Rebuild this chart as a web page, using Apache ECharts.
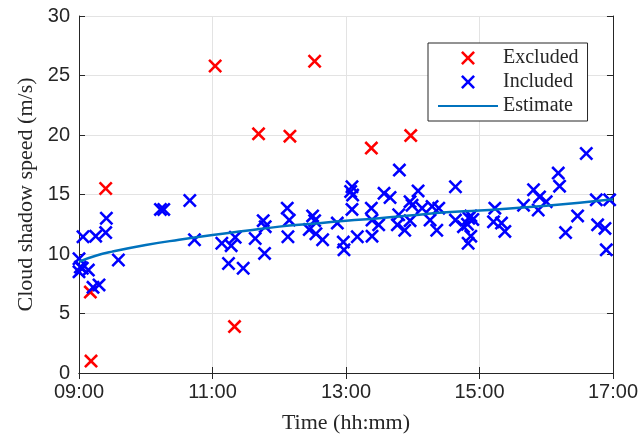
<!DOCTYPE html>
<html>
<head>
<meta charset="utf-8">
<script src="https://cdn.jsdelivr.net/npm/echarts@6/dist/echarts.min.js"></script>
<style>html,body{margin:0;padding:0;background:#fff;}#c{width:641px;height:439px;}</style>
</head>
<body>
<div id="c"></div>
<script>
// Time in decimal hours, speed in m/s
var excludedTime  = [9.18, 9.17, 9.40, 11.04, 11.33, 11.69, 12.16, 12.53, 13.38, 13.97];
var excludedSpeed = [1.0, 6.8, 15.5, 25.8, 3.9, 20.1, 19.9, 26.2, 18.9, 19.95];

var includedTime  = [9.00, 9.02, 9.00, 9.05, 9.14, 9.06, 9.25, 9.40, 9.41, 9.21, 9.30, 9.59,
  10.22, 10.27, 10.66, 10.73, 11.14, 11.28, 11.34, 11.24, 11.46, 11.64, 11.76, 11.79, 11.78,
  12.12, 12.15, 12.13, 12.50, 12.53, 12.45, 12.55, 12.65, 12.87, 12.96, 12.97,
  13.09, 13.07, 13.10, 13.09, 13.17, 13.38, 13.39, 13.39, 13.49, 13.57, 13.66, 13.80, 14.08,
  13.96, 13.99, 13.79, 13.77, 13.88, 13.96, 14.14, 14.29, 14.39, 14.26, 14.36,
  14.64, 14.64, 14.76, 14.84, 14.87, 14.87, 14.83, 14.90, 14.82,
  15.23, 15.21, 15.33, 15.38, 15.66, 15.81, 15.90, 16.00, 15.88, 16.18, 16.20, 16.29, 16.47,
  16.60, 16.75, 16.95, 16.77, 16.88, 16.90];
var includedSpeed = [9.6, 8.9, 8.5, 8.8, 8.65, 11.45, 11.5, 11.8, 13.0, 7.2, 7.4, 9.5,
  13.75, 13.75, 14.5, 11.2, 10.9, 10.7, 11.4, 9.2, 8.8, 11.3, 12.8, 12.3, 10.05,
  13.85, 12.85, 11.45, 13.2, 12.8, 12.05, 11.7, 11.2, 12.6, 11.0, 10.35,
  15.65, 15.25, 14.95, 13.75, 11.45, 13.85, 12.85, 11.5, 12.45, 15.1, 14.75, 17.05, 15.3,
  14.4, 14.1, 13.3, 12.45, 12.0, 12.8, 13.85, 14.0, 13.85, 12.85, 12.0,
  15.65, 12.85, 12.3, 13.0, 13.2, 11.5, 10.9, 12.9, 12.5,
  13.85, 12.7, 12.6, 11.9, 14.1, 15.4, 14.8, 14.4, 13.7, 16.8, 15.7, 11.8, 13.2,
  18.45, 14.55, 14.55, 12.45, 12.15, 10.35];

var estimateTime  = [9.0, 9.25, 9.5, 10.0, 10.5, 11.0, 11.5, 12.0, 12.5, 13.0, 13.5, 14.0, 14.5, 15.0, 15.5, 16.0, 16.5, 17.0];
var estimateSpeed = [9.35, 9.85, 10.2, 10.75, 11.2, 11.6, 11.95, 12.3, 12.55, 12.8, 13.0, 13.25, 13.5, 13.65, 13.85, 14.05, 14.3, 14.6];

var xTicks = ['09:00', '11:00', '13:00', '15:00', '17:00'];

function pairs(a, b) { return a.map(function (v, i) { return [v, b[i]]; }); }

var X = 'path://M0,2.6L2.6,0L10,7.4L17.4,0L20,2.6L12.6,10L20,17.4L17.4,20L10,12.6L2.6,20L0,17.4L7.4,10Z';
var ink = '#262626';
var gridCol = '#e3e3e3';
var sans = 'Liberation Sans';
var serif = 'Liberation Serif';

var chart = echarts.init(document.getElementById('c'), null, {renderer: 'canvas'});
chart.setOption({
  animation: false,
  backgroundColor: '#fff',
  grid: {left: 79, right: 26, top: 16, bottom: 66, containLabel: false},
  legend: {
    orient: 'vertical',
    left: 428, top: 43,
    padding: [5, 9, 5, 9],
    itemWidth: 60, itemHeight: 14, itemGap: 4,
    borderColor: ink, borderWidth: 1, backgroundColor: '#fff',
    textStyle: {fontFamily: serif, fontSize: 20, color: ink},
    data: ['Excluded', 'Included', {name: 'Estimate', itemStyle: {opacity: 0}}]
  },
  xAxis: [{
    type: 'value', min: 9, max: 17, interval: 2,
    name: 'Time (hh:mm)', nameLocation: 'middle', nameGap: 39,
    nameTextStyle: {fontFamily: serif, fontSize: 22, color: ink},
    axisLine: {show: true, lineStyle: {color: ink, width: 1}},
    axisTick: {show: true, inside: true, length: 6, lineStyle: {color: ink}},
    axisLabel: {fontFamily: sans, fontSize: 20, color: ink, margin: 9,
      formatter: function (v) { return xTicks[Math.round((v - 9) / 2)]; }},
    splitLine: {show: true, lineStyle: {color: gridCol, width: 1}}
  }, {
    type: 'value', position: 'top', min: 9, max: 17, interval: 2,
    axisLine: {show: true, lineStyle: {color: ink, width: 1}},
    axisTick: {show: true, inside: true, length: 6, lineStyle: {color: ink}},
    axisLabel: {show: false}, splitLine: {show: false}
  }],
  yAxis: [{
    type: 'value', min: 0, max: 30, interval: 5,
    name: 'Cloud shadow speed (m/s)', nameLocation: 'middle', nameGap: 42, nameRotate: 90,
    nameTextStyle: {fontFamily: serif, fontSize: 22, color: ink},
    axisLine: {show: true, lineStyle: {color: ink, width: 1}},
    axisTick: {show: true, inside: true, length: 6, lineStyle: {color: ink}},
    axisLabel: {fontFamily: sans, fontSize: 20, color: ink, margin: 9},
    splitLine: {show: true, lineStyle: {color: gridCol, width: 1}}
  }, {
    type: 'value', position: 'right', min: 0, max: 30, interval: 5,
    axisLine: {show: true, lineStyle: {color: ink, width: 1}},
    axisTick: {show: true, inside: true, length: 6, lineStyle: {color: ink}},
    axisLabel: {show: false}, splitLine: {show: false}
  }],
  series: [{
    name: 'Excluded', type: 'scatter', data: pairs(excludedTime, excludedSpeed),
    symbol: X, symbolSize: 14, symbolKeepAspect: true,
    itemStyle: {color: '#ff0000', opacity: 1}
  }, {
    name: 'Included', type: 'scatter', data: pairs(includedTime, includedSpeed),
    symbol: X, symbolSize: 14, symbolKeepAspect: true,
    itemStyle: {color: '#0000ff', opacity: 1}
  }, {
    name: 'Estimate', type: 'line', data: pairs(estimateTime, estimateSpeed),
    smooth: true, symbol: 'none', showSymbol: false,
    lineStyle: {color: '#0072BD', width: 2.5},
    itemStyle: {color: '#0072BD'}
  }]
});
</script>
</body>
</html>
